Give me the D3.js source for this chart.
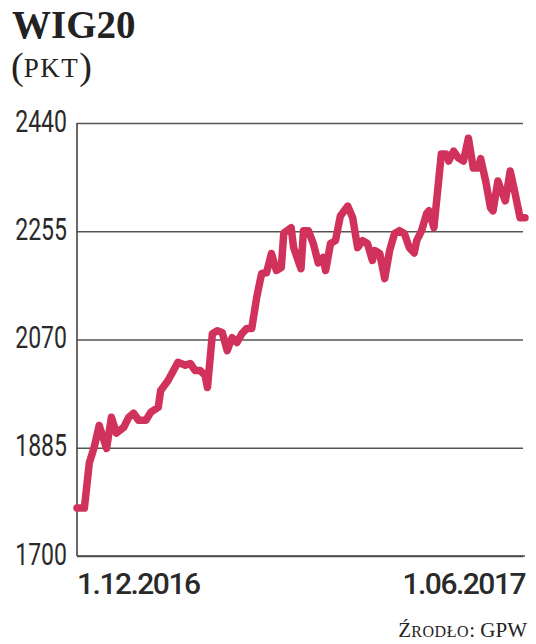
<!DOCTYPE html>
<html>
<head>
<meta charset="utf-8">
<script src="https://cdn.jsdelivr.net/npm/d3@7"></script>
<style>
  body { margin: 0; background: #fff; }
  svg { display: block; }
</style>
</head>
<body>
<div id="chart"></div>
<script>
// days since 1.12.2016 and index value (pkt)
var days = [0, 3, 5, 7, 9, 12, 14, 16, 19, 21, 23, 25, 28, 30, 33, 34, 37, 41, 44, 46,
  48, 50, 52, 53, 55, 57, 59, 61, 63, 65, 67, 69, 71, 73, 75, 77, 79, 81, 83, 84,
  87, 88, 91, 92, 94, 96, 98, 100, 101, 103, 105, 107, 110, 112, 114, 116, 118, 120, 121, 123,
  125, 127, 129, 131, 133, 135, 137, 138, 140, 142, 143, 145, 148, 150, 151, 153, 155, 157, 159, 161,
  163, 164, 166, 168, 169, 171, 172, 174, 176, 178, 180, 182];
var values = [1782, 1782, 1859, 1886, 1923, 1884, 1937, 1910, 1920, 1937, 1944, 1932, 1932, 1946, 1954, 1983, 2000, 2031, 2026, 2029,
  2017, 2017, 2009, 1988, 2080, 2085, 2082, 2051, 2073, 2065, 2080, 2089, 2089, 2142, 2183, 2184, 2217, 2188, 2193, 2252,
  2261, 2227, 2191, 2256, 2256, 2234, 2201, 2210, 2188, 2234, 2239, 2281, 2298, 2278, 2227, 2239, 2234, 2205, 2222, 2217,
  2174, 2222, 2251, 2256, 2251, 2227, 2218, 2239, 2256, 2285, 2290, 2261, 2387, 2387, 2375, 2392, 2380, 2375, 2414, 2363,
  2363, 2379, 2341, 2295, 2290, 2341, 2329, 2307, 2358, 2319, 2278, 2278];

var yTicks = [1700, 1885, 2070, 2255, 2440];
var xLabels = ["1.12.2016", "1.06.2017"];
var xLabelDays = [0, 182];

var svgWidth = 536;
var svgHeight = 644;
var margin = { top: 123, right: 11, bottom: 88, left: 77 };
var width = svgWidth - margin.left - margin.right;
var height = svgHeight - margin.top - margin.bottom;

var serif = "'Liberation Serif', serif";
var squeeze = 0.72; // condensed look for the value labels

var svg = d3.select("#chart")
  .append("svg")
  .attr("width", svgWidth)
  .attr("height", svgHeight);

// title
svg.append("text")
  .attr("x", 12)
  .attr("y", 38)
  .style("font-family", serif)
  .style("font-weight", "bold")
  .style("font-size", "39px")
  .style("fill", "#222")
  .text("WIG20");

var unit = svg.append("text")
  .attr("x", 11)
  .attr("y", 79)
  .style("font-family", serif)
  .style("fill", "#222");
unit.append("tspan").style("font-size", "38px").text("(");
unit.append("tspan").style("font-size", "27px").style("letter-spacing", "1.5px").attr("dy", -2).text("PKT");
unit.append("tspan").style("font-size", "38px").attr("dy", 2).text(")");

var chartGroup = svg.append("g")
  .attr("transform", `translate(${margin.left}, ${margin.top})`);

var xScale = d3.scaleLinear()
  .domain([0, 182])
  .range([0, width]);

var yScale = d3.scaleLinear()
  .domain([1700, 2440])
  .range([height, 0]);

// gridlines + labels
var leftAxis = d3.axisLeft(yScale)
  .tickValues(yTicks)
  .tickFormat(d3.format("d"))
  .tickSizeInner(-width + 2)
  .tickSizeOuter(0)
  .tickPadding(10);

var yAxisG = chartGroup.append("g").call(leftAxis);
yAxisG.select(".domain").remove();
yAxisG.selectAll(".tick line")
  .attr("stroke", "#555")
  .attr("stroke-width", 1.6);
yAxisG.selectAll(".tick text")
  .attr("x", -10 / squeeze)
  .attr("dy", "0.25em")
  .attr("transform", `scale(${squeeze},1)`)
  .style("font-family", "Roboto, sans-serif")
  .style("font-size", "32px")
  .style("fill", "#2a2a2a");

// axis lines
chartGroup.append("line")
  .attr("x1", 0).attr("x2", 0)
  .attr("y1", 0).attr("y2", height)
  .attr("stroke", "#444")
  .attr("stroke-width", 1.6);
chartGroup.append("line")
  .attr("x1", 0).attr("x2", width)
  .attr("y1", height).attr("y2", height)
  .attr("stroke", "#444")
  .attr("stroke-width", 1.6);

// date labels
chartGroup.selectAll(".xlab")
  .data(xLabels)
  .enter()
  .append("text")
  .attr("class", "xlab")
  .attr("x", (d, i) => xScale(xLabelDays[i]))
  .attr("y", height + 38)
  .attr("text-anchor", (d, i) => i === 0 ? "start" : "end")
  .style("font-family", "Roboto, sans-serif")
  .style("font-weight", "500")
  .style("font-size", "30px")
  .style("letter-spacing", "-1.5px")
  .style("fill", "#2a2a2a")
  .text(d => d);

// line
var line = d3.line()
  .x((d, i) => xScale(days[i]))
  .y(d => yScale(d));

chartGroup.append("path")
  .datum(values)
  .attr("fill", "none")
  .attr("stroke", "#d1325c")
  .attr("stroke-width", 7.5)
  .attr("stroke-linejoin", "round")
  .attr("stroke-linecap", "round")
  .attr("d", line);

// source
var src = svg.append("text")
  .attr("x", 527)
  .attr("y", 637)
  .attr("text-anchor", "end")
  .style("font-family", serif)
  .style("fill", "#222");
src.append("tspan").style("font-size", "21px").text("Ź");
src.append("tspan").style("font-size", "16px").style("letter-spacing", "0.6px").text("RODŁO");
src.append("tspan").style("font-size", "21px").text(": GPW");
</script>
</body>
</html>
